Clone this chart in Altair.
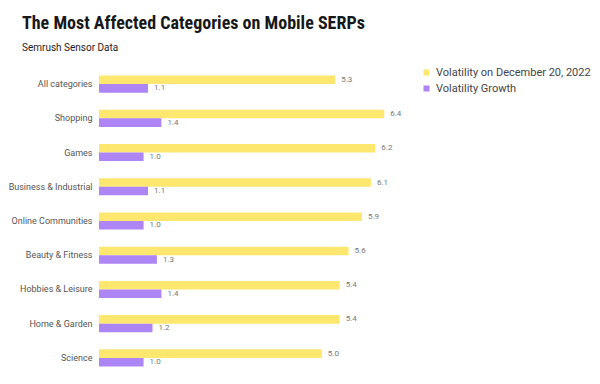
import altair as alt
import pandas as pd

categories = ["All categories", "Shopping", "Games", "Business & Industrial",
              "Online Communities", "Beauty & Fitness", "Hobbies & Leisure",
              "Home & Garden", "Science"]
volatility = [5.3, 6.4, 6.2, 6.1, 5.9, 5.6, 5.4, 5.4, 5.0]
growth = [1.1, 1.4, 1.0, 1.1, 1.0, 1.3, 1.4, 1.2, 1.0]
series = ["Volatility on December 20, 2022", "Volatility Growth"]
colors = ["#FDE76E", "#AE85F4"]

rows = []
for c, v, g in zip(categories, volatility, growth):
    rows.append({"category": c, "series": series[0], "value": v})
    rows.append({"category": c, "series": series[1], "value": g})
df = pd.DataFrame(rows)

FONT = "Roboto"
TFONT = "Liberation Sans Narrow, Roboto Condensed, Roboto"

y = alt.Y("category:N", sort=categories, title=None,
          scale=alt.Scale(paddingInner=0.5, paddingOuter=0.25),
          axis=alt.Axis(domain=False, ticks=False, labelPadding=7, labelLimit=0,
                        labelFontSize=9, labelColor="#555555", labelFont=FONT))
yoff = alt.YOffset("series:N", sort=series, scale=alt.Scale(paddingInner=0))
x = alt.X("value:Q", title=None, scale=alt.Scale(domain=[0, 7]), axis=None)

bars = alt.Chart(df).mark_bar(cornerRadius=0).encode(
    x=x, y=y, yOffset=yoff,
    color=alt.Color("series:N", sort=series,
                    scale=alt.Scale(domain=series, range=colors),
                    legend=alt.Legend(title=None, orient="none", legendX=322, legendY=0,
                                      symbolType="square", symbolSize=36, labelLimit=0,
                                      labelFontSize=11, labelColor="#444444",
                                      labelFont=FONT, rowPadding=4))
)

labels = alt.Chart(df).mark_text(align="left", dx=6, fontSize=8, color="#777777",
                                 font=FONT).encode(
    x=x, y=y, yOffset=yoff,
    text=alt.Text("value:Q", format=".1f")
)

chart = (bars + labels).properties(
    width=312, height=308,
    padding={"left": 91, "top": 59, "right": 181, "bottom": 1},
    autosize=alt.AutoSizeParams(type="none"),
    background="white",
    title=alt.TitleParams(
        text="The Most Affected Categories on Mobile SERPs",
        subtitle="Semrush Sensor Data",
        anchor="start", frame="group", dx=-77, offset=14,
        font=TFONT, fontSize=18, fontWeight="bold", color="#181818",
        subtitleFont=FONT, subtitleFontSize=10, subtitleColor="#222222",
        subtitlePadding=10),
).configure_view(stroke=None)

chart.save("out.html", embed_options={"renderer": "svg", "actions": False})
